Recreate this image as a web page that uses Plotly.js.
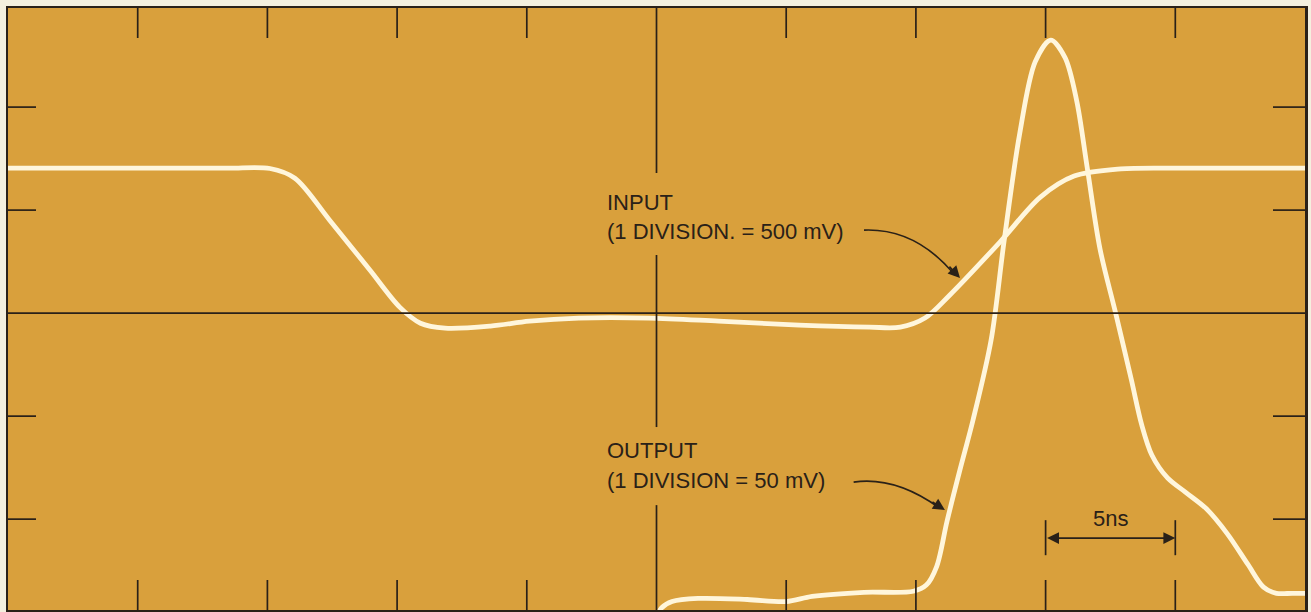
<!DOCTYPE html>
<html>
<head>
<meta charset="utf-8">
<script src="https://cdn.plot.ly/plotly-3.0.1.min.js"></script>
<style>
  html, body { margin: 0; padding: 0; background: #F4F0DE; }
  #chart { width: 1311px; height: 612px; }
</style>
</head>
<body>
<div id="chart"></div>
<script>
// Time axis: 5 ns per division, 10 divisions
const inputTime = [0, 3, 6, 8.5, 10.1, 11.06, 12.4, 13.95, 15.1, 15.9, 16.85, 18.6, 20.1, 22.0, 24.7, 27.4, 30.5, 33.2, 34.4, 35.35, 36.3, 38.24, 39.8, 41.1, 42.9, 45, 47.5, 50];
// Input waveform, mV (1 division = 500 mV)
const inputMv = [704, 704, 704, 704, 702, 655, 451, 209, 29, -49, -73, -63, -39, -24, -24, -39, -58, -68, -68, -24, 87, 345, 563, 665, 700, 704, 704, 704];

const outputTime = [24.9, 25.2, 25.6, 26.6, 28.5, 30.0, 31.0, 33.0, 34.9, 35.4, 35.8, 36.2, 36.7, 37.2, 37.9, 38.4, 39.0, 39.6, 40.2, 40.75, 41.2, 41.6, 42.1, 42.7, 43.3, 43.7, 44.1, 44.7, 45.4, 46.2, 47.0, 47.8, 48.4, 48.9, 49.5, 50];
// Output waveform, mV (1 division = 50 mV)
const outputMv = [-150, -143, -140, -138.5, -139, -140, -137.5, -135.5, -135, -132, -123, -101, -76, -52, -13, 35, 87, 122, 132.5, 124, 103, 71, 31, 0, -32, -54, -69, -80, -87, -95, -107, -122, -133, -136, -136, -136];

const timeTicks = [5, 10, 15, 20, 30, 35, 40, 45];
const inputTicksMv = [1000, 500, -500, -1000];
const markerStartNs = 40, markerEndNs = 45;
const markerLabel = '5ns';
const inputLabel = ['INPUT', '(1 DIVISION. = 500 mV)'];
const outputLabel = ['OUTPUT', '(1 DIVISION = 50 mV)'];

const ink = '#2a2118';
const traceColor = '#FFF6DC';

const traces = [
  { x: inputTime, y: inputMv, mode: 'lines', yaxis: 'y',
    line: { color: traceColor, width: 4.8, shape: 'spline', smoothing: 0.9 }, hoverinfo: 'skip' },
  { x: outputTime, y: outputMv, mode: 'lines', yaxis: 'y2',
    line: { color: traceColor, width: 4.8, shape: 'spline', smoothing: 0.9 }, hoverinfo: 'skip' }
];

const shapes = [];
const tickLine = { color: ink, width: 1.7 };
timeTicks.forEach(t => {
  shapes.push({ type: 'line', xref: 'x', yref: 'paper', x0: t, x1: t, y0: 1, y1: 1 - 30/602, line: tickLine });
  shapes.push({ type: 'line', xref: 'x', yref: 'paper', x0: t, x1: t, y0: 0, y1: 30/602, line: tickLine });
});
inputTicksMv.forEach(v => {
  shapes.push({ type: 'line', xref: 'paper', yref: 'y', x0: 0, x1: 28/1297, y0: v, y1: v, line: tickLine });
  shapes.push({ type: 'line', xref: 'paper', yref: 'y', x0: 1 - 32/1297, x1: 1, y0: v, y1: v, line: tickLine });
});
// centre horizontal line
shapes.push({ type: 'line', xref: 'paper', yref: 'y', x0: 0, x1: 1, y0: 0, y1: 0, line: tickLine });
// centre vertical line, broken where the labels sit
[[1481, 680], [282, -553], [-932, -1441]].forEach(s => {
  shapes.push({ type: 'line', xref: 'x', yref: 'y', x0: 25, x1: 25, y0: s[0], y1: s[1], line: tickLine });
});
// 5 ns marker
[markerStartNs, markerEndNs].forEach(t => {
  shapes.push({ type: 'line', xref: 'x', yref: 'y', x0: t, x1: t, y0: -1005, y1: -1175, line: tickLine });
});
// curved leader lines
shapes.push({ type: 'path', xref: 'x', yref: 'y', path: 'M 33.0 403 Q 35.0 413 36.5 185', line: { color: ink, width: 1.7 } });
shapes.push({ type: 'path', xref: 'x', yref: 'y', path: 'M 32.6 -820 Q 34.2 -791 35.9 -945', line: { color: ink, width: 1.7 } });

const textFont = { family: 'Liberation Sans, Arial, sans-serif', size: 22, color: ink };
const annotations = [
  { x: 23.0, y: 539, xref: 'x', yref: 'y', text: inputLabel[0], showarrow: false, xanchor: 'left', yanchor: 'middle', font: textFont },
  { x: 23.0, y: 398, xref: 'x', yref: 'y', text: inputLabel[1], showarrow: false, xanchor: 'left', yanchor: 'middle', font: textFont },
  { x: 23.0, y: -665, xref: 'x', yref: 'y', text: outputLabel[0], showarrow: false, xanchor: 'left', yanchor: 'middle', font: textFont },
  { x: 23.0, y: -811, xref: 'x', yref: 'y', text: outputLabel[1], showarrow: false, xanchor: 'left', yanchor: 'middle', font: textFont },
  { x: 42.5, y: -995, xref: 'x', yref: 'y', text: markerLabel, showarrow: false, xanchor: 'center', yanchor: 'middle', font: textFont },
  // double arrow of the 5 ns marker
  { x: markerEndNs, y: -1092, ax: markerStartNs, ay: -1092, xref: 'x', yref: 'y', axref: 'x', ayref: 'y', text: '',
    showarrow: true, arrowhead: 2, arrowside: 'end+start', arrowsize: 1.4, arrowwidth: 1.7, arrowcolor: ink },
  // arrow heads of the leader lines
  { x: 36.7, y: 170, xref: 'x', yref: 'y', ax: -12, ay: -13, text: '', showarrow: true, arrowhead: 2, arrowsize: 1.4, arrowwidth: 1.7, arrowcolor: ink },
  { x: 36.12, y: -956, xref: 'x', yref: 'y', ax: -14, ay: -9, text: '', showarrow: true, arrowhead: 2, arrowsize: 1.4, arrowwidth: 1.7, arrowcolor: ink }
];

const layout = {
  width: 1311, height: 612,
  margin: { l: 8, r: 6, t: 8, b: 2, pad: 0 },
  paper_bgcolor: '#F4F0DE',
  plot_bgcolor: '#D9A03C',
  showlegend: false,
  xaxis: { range: [0, 50], showgrid: false, zeroline: false, showticklabels: false, ticks: '',
           showline: true, mirror: true, linecolor: ink, linewidth: 2.5, fixedrange: true },
  yaxis: { range: [-1441, 1481], showgrid: false, zeroline: false, showticklabels: false, ticks: '',
           showline: true, mirror: true, linecolor: ink, linewidth: 2.5, fixedrange: true },
  yaxis2: { range: [-144.1, 148.1], overlaying: 'y', side: 'right', showgrid: false, zeroline: false,
            showticklabels: false, ticks: '', showline: false, fixedrange: true },
  shapes: shapes,
  annotations: annotations
};

Plotly.newPlot('chart', traces, layout, { staticPlot: true, displayModeBar: false });
</script>
</body>
</html>
